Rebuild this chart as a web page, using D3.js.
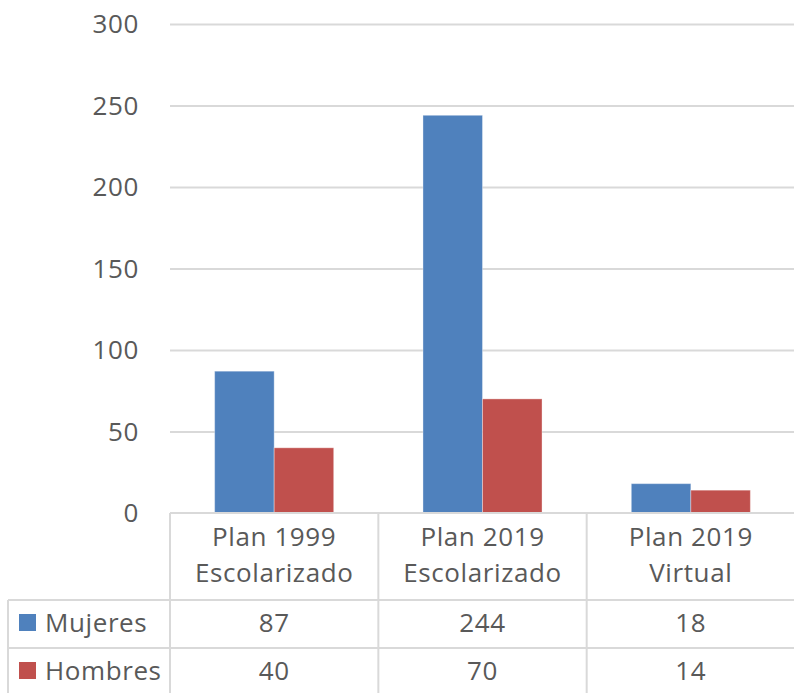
<!DOCTYPE html>
<html>
<head>
<meta charset="utf-8">
<script src="https://cdn.jsdelivr.net/npm/d3@7"></script>
<style>
  html, body { margin: 0; padding: 0; background: #fff; }
  svg { display: block; font-family: "Open Sans", sans-serif; }
  text { fill: #595959; }
</style>
</head>
<body>
<div id="chart"></div>
<script>
const categories = [['Plan 1999', 'Escolarizado'], ['Plan 2019', 'Escolarizado'], ['Plan 2019', 'Virtual']];
const seriesNames = ['Mujeres', 'Hombres'];
const mujeres = [87, 244, 18];
const hombres = [40, 70, 14];
const yTicks = [0, 50, 100, 150, 200, 250, 300];
const colors = ['#4F81BD', '#C0504D'];

const W = 794, H = 693;
const plot = { left: 170, right: 795, top: 24, bottom: 513 };
const rowLines = [600, 648, 696];
const tableLeft = 8;
const gridColor = '#D9D9D9';
const fs = 26;
const ls = 0.6;

const values = [mujeres, hombres];

const svg = d3.select('#chart').append('svg')
  .attr('width', W)
  .attr('height', H);

const x0 = d3.scaleBand()
  .domain(d3.range(categories.length))
  .range([plot.left, plot.right])
  .padding(0);

const x1 = d3.scaleBand()
  .domain(d3.range(seriesNames.length))
  .range([0, x0.bandwidth()])
  .paddingInner(0)
  .paddingOuter(0.75);

const y = d3.scaleLinear()
  .domain([0, 300])
  .range([plot.bottom, plot.top]);

// gridlines + y labels
const yAxis = d3.axisLeft(y).tickValues(yTicks.slice(1)).tickSize(-(plot.right - plot.left)).tickFormat('');
svg.append('g')
  .attr('transform', `translate(${plot.left},0)`)
  .call(yAxis)
  .call(g => g.select('.domain').remove())
  .call(g => g.selectAll('line').attr('stroke', gridColor).attr('stroke-width', 2));

svg.append('g')
  .selectAll('text')
  .data(yTicks)
  .join('text')
  .attr('x', 139)
  .attr('y', d => y(d))
  .attr('dy', '0.36em')
  .attr('text-anchor', 'end')
  .attr('font-size', fs)
  .attr('letter-spacing', ls)
  .text(d => d);

// bars
const groups = svg.append('g')
  .selectAll('g')
  .data(categories.map((c, i) => i))
  .join('g')
  .attr('transform', i => `translate(${x0(i)},0)`);

groups.selectAll('rect')
  .data(i => values.map((v, s) => ({ s, v: v[i] })))
  .join('rect')
  .attr('x', d => x1(d.s))
  .attr('y', d => y(d.v))
  .attr('width', x1.bandwidth())
  .attr('height', d => y(0) - y(d.v))
  .attr('fill', d => colors[d.s])
  .attr('stroke', 'rgba(255,255,255,0.35)')
  .attr('stroke-width', 1);

// data table
const tbl = svg.append('g').attr('stroke', gridColor).attr('stroke-width', 2);
tbl.append('line').attr('x1', plot.left).attr('x2', W + 2).attr('y1', plot.bottom).attr('y2', plot.bottom);
rowLines.forEach(r => {
  tbl.append('line').attr('x1', tableLeft).attr('x2', W + 2).attr('y1', r).attr('y2', r);
});
tbl.append('line').attr('x1', tableLeft).attr('x2', tableLeft).attr('y1', rowLines[0]).attr('y2', H + 2);
d3.range(categories.length).forEach(i => {
  const xx = x0(i);
  tbl.append('line').attr('x1', xx).attr('x2', xx).attr('y1', plot.bottom).attr('y2', H + 2);
});

// category headers
const hdr = svg.append('g');
categories.forEach((c, i) => {
  const cx = x0(i) + x0.bandwidth() / 2;
  c.forEach((line, k) => {
    hdr.append('text')
      .attr('x', cx)
      .attr('y', 537 + k * 36)
      .attr('dy', '0.36em')
      .attr('text-anchor', 'middle')
      .attr('font-size', fs)
      .attr('letter-spacing', ls)
      .text(line);
  });
});

// rows
seriesNames.forEach((name, s) => {
  const cy = (rowLines[s] + rowLines[s + 1]) / 2 - 1;
  svg.append('rect')
    .attr('x', 19).attr('y', cy - 9)
    .attr('width', 17).attr('height', 17)
    .attr('fill', colors[s]);
  svg.append('text')
    .attr('x', 45).attr('y', cy)
    .attr('dy', '0.36em')
    .attr('font-size', fs)
    .attr('letter-spacing', ls)
    .text(name);
  values[s].forEach((v, i) => {
    svg.append('text')
      .attr('x', x0(i) + x0.bandwidth() / 2)
      .attr('y', cy)
      .attr('dy', '0.36em')
      .attr('text-anchor', 'middle')
      .attr('font-size', fs)
      .attr('letter-spacing', ls)
      .text(v);
  });
});
</script>
</body>
</html>
